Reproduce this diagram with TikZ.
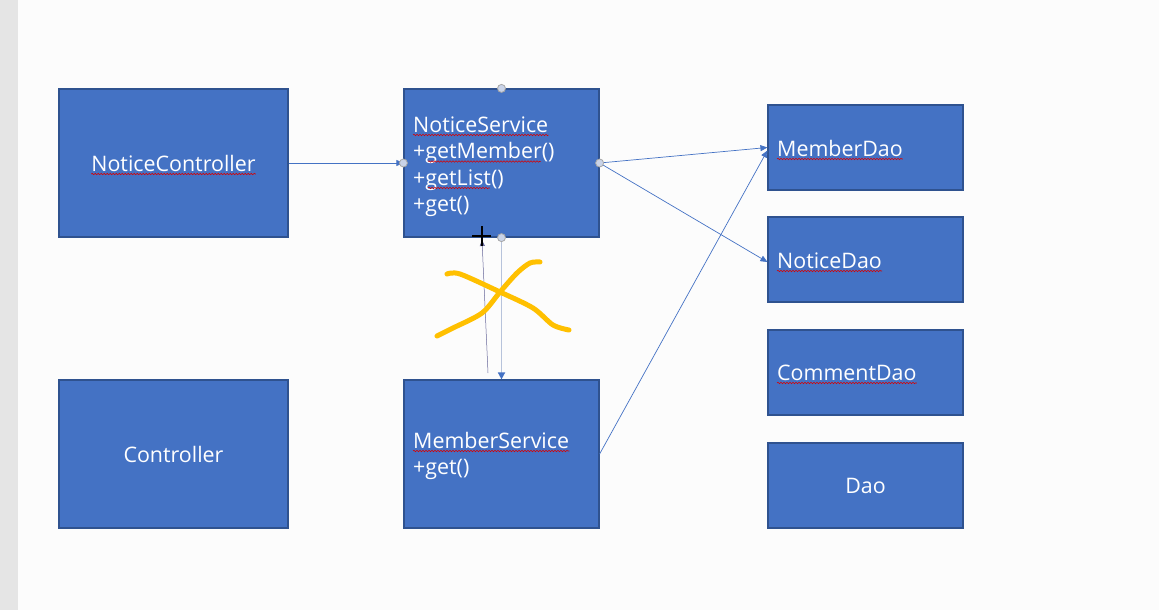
\documentclass[tikz,border=0pt]{standalone}
\usepackage{fontspec}
\setmainfont{Open Sans}
\usetikzlibrary{arrows.meta,decorations.pathmorphing}

\definecolor{boxblue}{HTML}{4472C4}
\definecolor{boxline}{HTML}{2F528F}
\definecolor{penyellow}{HTML}{FFC000}
\definecolor{gripfill}{HTML}{C9D3E8}
\definecolor{paleline}{HTML}{B7C3DB}

\tikzset{
  box/.style={draw=boxline, line width=1.2pt, fill=boxblue, inner sep=0pt,
    text=white, font=\fontsize{21.4}{25}\selectfont},
  lbl/.style={text=white, inner sep=0pt, anchor=base west,
    font=\fontsize{21.4}{25}\selectfont},
  mid/.style={text=white, inner sep=0pt, font=\fontsize{21.4}{25}\selectfont},
  conn/.style={draw=boxblue, line width=0.7pt, -{Triangle[length=7pt,width=6pt]}},
  spell/.style={draw=red!85!black, line width=0.6pt, decorate,
    decoration={snake, amplitude=0.7pt, segment length=3pt}},
  grip/.style={circle, draw=gray!70, fill=gripfill, line width=0.8pt,
    minimum size=8pt, inner sep=0pt},
  ink/.style={draw=penyellow, line width=5pt, line cap=round, line join=round},
}

\begin{document}
\begin{tikzpicture}[x=1pt, y=-1pt]
    % page
    \fill[white!99!black] (0,0) rectangle (1159,610);
    \useasboundingbox (0,0) rectangle (1159,610);
    \fill[gray!20] (0,0) rectangle (18,610);

    % controllers
    \node[box, minimum width=229pt, minimum height=148pt] (noticeCtrl) at (173.5,163) {};
    \node[mid] (ncName) at (noticeCtrl) {NoticeController};
    \node[box, minimum width=229pt, minimum height=148pt] (ctrl) at (173.5,454) {Controller};

    % services
    \node[box, minimum width=195pt, minimum height=148pt] (noticeSvc) at (501.5,163) {};
    \node[lbl] (nsName) at (413,132) {NoticeService};
    \node[lbl] (nsMember) at (413,158.5) {+getMember()};
    \node[lbl] (nsList) at (413,185) {+getList()};
    \node[lbl] (nsGet) at (413,211.5) {+get()};

    \node[box, minimum width=195pt, minimum height=148pt] (memberSvc) at (501.5,454) {};
    \node[lbl] (msName) at (413,448) {MemberService};
    \node[lbl] (msGet) at (413,474.5) {+get()};

    % daos
    \node[box, minimum width=195pt, minimum height=85pt] (memberDao) at (865.5,147.5) {};
    \node[lbl] (mdName) at (777,156) {MemberDao};
    \node[box, minimum width=195pt, minimum height=85pt] (noticeDao) at (865.5,259.5) {};
    \node[lbl] (ndName) at (777,268) {NoticeDao};
    \node[box, minimum width=195pt, minimum height=85pt] (commentDao) at (865.5,372.5) {};
    \node[lbl] (cdName) at (777,380) {CommentDao};
    \node[box, minimum width=195pt, minimum height=85pt] (dao) at (865.5,485.5) {Dao};

    % spell check marks
    \draw[spell] ([yshift=-3pt]ncName.base west) -- ([yshift=-3pt]ncName.base east);
    \draw[spell] ([yshift=-3pt]nsName.base west) -- ([yshift=-3pt]nsName.base east);
    \draw[spell] ([xshift=15pt,yshift=-3pt]nsMember.base west) -- ([xshift=-14pt,yshift=-3pt]nsMember.base east);
    \draw[spell] ([xshift=15pt,yshift=-3pt]nsList.base west) -- ([xshift=-14pt,yshift=-3pt]nsList.base east);
    \draw[spell] ([yshift=-3pt]msName.base west) -- ([yshift=-3pt]msName.base east);
    \draw[spell] ([yshift=-3pt]mdName.base west) -- ([yshift=-3pt]mdName.base east);
    \draw[spell] ([yshift=-3pt]ndName.base west) -- ([yshift=-3pt]ndName.base east);
    \draw[spell] ([yshift=-3pt]cdName.base west) -- ([yshift=-3pt]cdName.base east);

    % connectors
    \draw[conn] (noticeCtrl.east) -- (noticeSvc.west);
    \draw[conn] (noticeSvc.east) -- (memberDao.west);
    \draw[conn] (noticeSvc.east) -- ([yshift=-2.5pt]noticeDao.west);
    \draw[conn] (memberSvc.east) -- ([yshift=-3pt]memberDao.west);
    \draw[draw=paleline, line width=1.6pt,
        -{Triangle[length=7pt,width=7pt,color=boxblue]}]
        (noticeSvc.south) -- (memberSvc.north);
    \coordinate (dragStart) at (488,373);
    \coordinate (dragTip) at (482,240);
    \draw[draw=gray!80!blue, line width=0.5pt, -{Triangle[length=6pt,width=5pt]}]
        (dragStart) -- (dragTip);

    % handles
    \node[grip] at (noticeSvc.north) {};
    \node[grip] at (noticeSvc.west) {};
    \node[grip] at (noticeSvc.east) {};
    \node[grip] at (noticeSvc.south) {};

    % pen strokes
    \draw[ink] plot[smooth] coordinates {(447,274) (460,274) (500,292) (533,308) (553,325) (569,330)};
    \draw[ink] plot[smooth] coordinates {(437,336) (453,328) (482,313) (500,292) (517,273) (530,263) (540,262)};

    % cursor
    \draw[black, line width=2pt] (472,236) -- (491,236) (481.5,226) -- (481.5,246);
\end{tikzpicture}
\end{document}
